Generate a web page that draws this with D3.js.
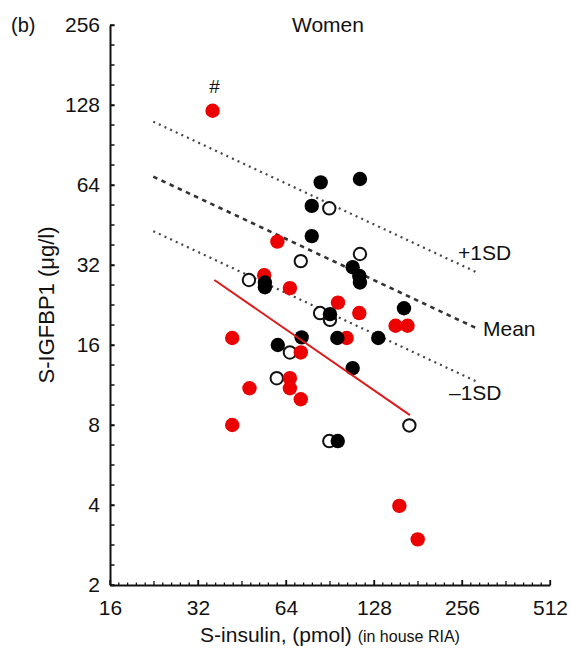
<!DOCTYPE html>
<html>
<head>
<meta charset="utf-8">
<script src="https://cdn.jsdelivr.net/npm/d3@7"></script>
<style>
html,body{margin:0;padding:0;background:#fff;}
svg{display:block;font-family:"Liberation Sans",Arial,Helvetica,sans-serif;}
</style>
</head>
<body>
<script>
// ---- data ----
const xTicks = [16, 32, 64, 128, 256, 512];
const yTicks = [2, 4, 8, 16, 32, 64, 128, 256];

// red filled circles
const redX = [35.9, 59.8, 53.9, 66.0, 96.4, 114.0, 151.7, 166.7, 41.9, 103.2, 71.9, 66.0, 66.0, 48.0, 71.9, 41.9, 156.3, 180.6];
const redY = [121.8, 39.2, 29.3, 26.2, 23.1, 21.1, 18.9, 18.9, 17.0, 17.0, 15.0, 12.0, 11.0, 11.0, 10.0, 8.0, 3.97, 2.97];

// black filled circles
const blackX = [84.1, 114.6, 78.4, 78.4, 108.2, 114.0, 114.6, 54.2, 54.2, 90.5, 162.1, 72.4, 95.9, 132.4, 60.0, 108.2, 96.2];
const blackY = [65.5, 67.4, 53.4, 41.1, 31.4, 29.1, 27.5, 27.5, 26.4, 20.9, 22.0, 17.1, 17.0, 17.0, 16.0, 13.1, 6.96];

// open circles
const openX = [90.0, 114.6, 71.9, 47.8, 83.7, 90.5, 66.0, 59.5, 169.1, 90.0];
const openY = [52.3, 35.2, 33.1, 28.1, 21.1, 19.9, 15.0, 12.0, 7.97, 6.96];

// reference lines (mean and +/-1SD) and regression line
const refX = [22.5, 290];
const meanY = [68.8, 18.4];
const upperY = [110.8, 29.9];
const lowerY = [42.9, 11.6];
const fitX = [36.4, 169.9];
const fitY = [28.1, 8.72];

// ---- drawing ----
const W = 570, H = 654;
const svg = d3.select("body").append("svg").attr("width", W).attr("height", H);

const x = d3.scaleLog().base(2).domain([16, 512]).range([110, 550]);
const y = d3.scaleLog().base(2).domain([2, 256]).range([585, 25]);

const FONT = 21;

// minor ticks
const xMinor = d3.range(0, 51).map(k => 16 * Math.pow(2, k / 10));
const yMinor = d3.range(0, 29).map(k => 2 * Math.pow(2, k / 4));

svg.append("g").selectAll("line").data(xMinor).join("line")
  .attr("x1", d => x(d)).attr("x2", d => x(d))
  .attr("y1", 585).attr("y2", (d, i) => 585 - (i % 10 === 0 ? 5 : (i % 5 === 0 ? 4 : 2.5)))
  .attr("stroke", "#111").attr("stroke-width", 1.3);

svg.append("g").selectAll("line").data(yMinor).join("line")
  .attr("y1", d => y(d)).attr("y2", d => y(d))
  .attr("x1", 110).attr("x2", 114.5)
  .attr("stroke", "#111").attr("stroke-width", 1.5);

// axes
const xAxis = d3.axisBottom(x).tickValues(xTicks).tickFormat(d3.format("d"))
  .tickSizeInner(-5).tickSizeOuter(0).tickPadding(15);
const gx = svg.append("g").attr("transform", "translate(0,585)").call(xAxis);
gx.select(".domain").attr("stroke", "#111").attr("stroke-width", 2);
gx.selectAll(".tick line").attr("stroke", "#111").attr("stroke-width", 1.3);
gx.selectAll("text").attr("font-size", FONT).attr("fill", "#111")
  .attr("font-family", "Liberation Sans, Arial, sans-serif");

const yAxis = d3.axisLeft(y).tickValues(yTicks).tickFormat(d3.format("d"))
  .tickSizeInner(-4.5).tickSizeOuter(0).tickPadding(10);
const gy = svg.append("g").attr("transform", "translate(110,0)").call(yAxis);
gy.select(".domain").attr("stroke", "#111").attr("stroke-width", 2);
gy.selectAll(".tick line").attr("stroke", "#111").attr("stroke-width", 1.5);
gy.selectAll("text").attr("font-size", FONT).attr("fill", "#111")
  .attr("font-family", "Liberation Sans, Arial, sans-serif");

// reference lines
const line2 = (xs, ys) => d3.line()(xs.map((v, i) => [x(v), y(ys[i])]));
svg.append("path").attr("d", line2(refX, upperY)).attr("fill", "none")
  .attr("stroke", "#444").attr("stroke-width", 2.2).attr("stroke-dasharray", "2,4.2");
svg.append("path").attr("d", line2(refX, lowerY)).attr("fill", "none")
  .attr("stroke", "#444").attr("stroke-width", 2.2).attr("stroke-dasharray", "2,4.2");
svg.append("path").attr("d", line2(refX, meanY)).attr("fill", "none")
  .attr("stroke", "#333").attr("stroke-width", 2.6).attr("stroke-dasharray", "4.5,4.5");

// points: open, red, black
svg.append("g").selectAll("circle").data(openX).join("circle")
  .attr("cx", d => x(d)).attr("cy", (d, i) => y(openY[i])).attr("r", 6.2)
  .attr("fill", "#fff").attr("stroke", "#111").attr("stroke-width", 2);
svg.append("g").selectAll("circle").data(redX).join("circle")
  .attr("cx", d => x(d)).attr("cy", (d, i) => y(redY[i])).attr("r", 7.2)
  .attr("fill", "#ec0000");
svg.append("g").selectAll("circle").data(blackX).join("circle")
  .attr("cx", d => x(d)).attr("cy", (d, i) => y(blackY[i])).attr("r", 7.2)
  .attr("fill", "#000");

// regression line
svg.append("path").attr("d", line2(fitX, fitY)).attr("fill", "none")
  .attr("stroke", "#dd1a1a").attr("stroke-width", 2);

// texts
svg.append("text").attr("x", 11).attr("y", 32).attr("font-size", 20).attr("fill", "#111").text("(b)");
svg.append("text").attr("x", 328).attr("y", 32).attr("font-size", FONT).attr("text-anchor", "middle").attr("fill", "#111").text("Women");
svg.append("text").attr("x", x(35.9) + 2).attr("y", 93).attr("font-size", 19).attr("text-anchor", "middle").attr("fill", "#111").text("#");
svg.append("text").attr("x", 458).attr("y", 260).attr("font-size", FONT).attr("fill", "#111").text("+1SD");
svg.append("text").attr("x", 483).attr("y", 336).attr("font-size", FONT).attr("fill", "#111").text("Mean");
svg.append("text").attr("x", 449).attr("y", 400).attr("font-size", FONT).attr("fill", "#111").text("\u20131SD");

// axis titles
svg.append("text").attr("transform", "translate(54,305) rotate(-90)")
  .attr("text-anchor", "middle").attr("font-size", 22).attr("fill", "#111")
  .text("S-IGFBP1 (\u03bcg/l)");
const xt = svg.append("text").attr("x", 330).attr("y", 642).attr("text-anchor", "middle").attr("fill", "#111");
xt.append("tspan").attr("font-size", FONT).text("S-insulin, (pmol) ");
xt.append("tspan").attr("font-size", 16).text("(in house RIA)");
</script>
</body>
</html>
